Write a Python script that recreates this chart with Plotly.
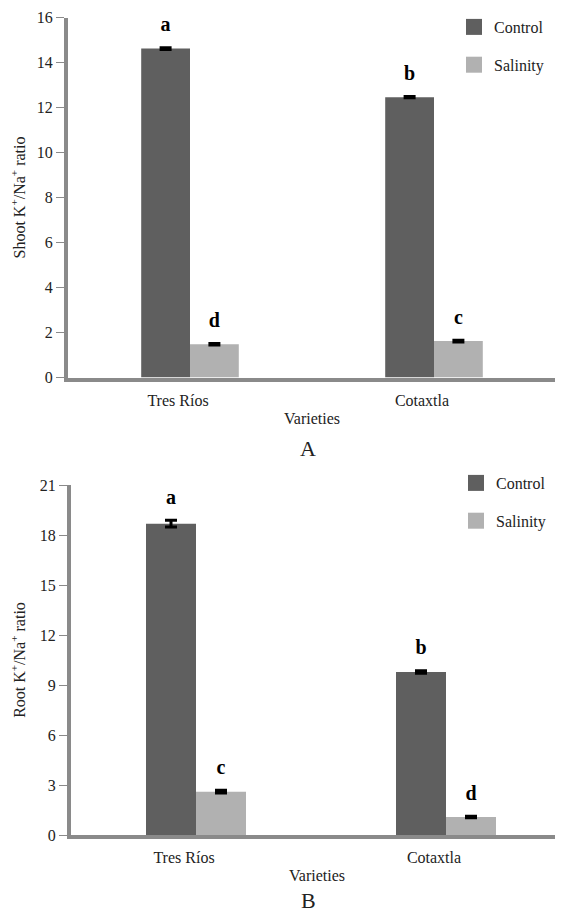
import plotly.graph_objects as go

varieties = ["Tres Ríos", "Cotaxtla"]

shoot_control = [14.62, 12.46]
shoot_control_err = [0.04, 0.03]
shoot_salinity = [1.48, 1.62]
shoot_salinity_err = [0.03, 0.04]
shoot_control_letters = ["a", "b"]
shoot_salinity_letters = ["d", "c"]

root_control = [18.68, 9.78]
root_control_err = [0.2, 0.08]
root_salinity = [2.6, 1.08]
root_salinity_err = [0.08, 0.05]
root_control_letters = ["a", "b"]
root_salinity_letters = ["c", "d"]

shoot_ticks = [0, 2, 4, 6, 8, 10, 12, 14, 16]
root_ticks = [0, 3, 6, 9, 12, 15, 18, 21]

C_CONTROL = "#5f5f5f"
C_SAL = "#b1b1b1"
AX = "#8a8a8a"
FONT = "Liberation Serif, Times New Roman, serif"
TXT = "#222"

fig = go.Figure()

def add_panel(ctrl, ctrl_err, sal, sal_err, lc, ls, xa, ya, legend):
    for vals, errs, letters, col, name, grp in ((ctrl, ctrl_err, lc, C_CONTROL, "Control", "c"),
                                                 (sal, sal_err, ls, C_SAL, "Salinity", "s")):
        fig.add_trace(go.Bar(x=varieties, y=vals, name=name, marker_color=col,
                             error_y=dict(type="data", array=errs, color="black", thickness=3, width=6),
                             xaxis=xa, yaxis=ya, showlegend=False, offsetgroup=grp))
        fig.add_trace(go.Scatter(x=varieties, y=[v + e for v, e in zip(vals, errs)], text=letters,
                                 mode="markers+text", textposition="top center",
                                 marker=dict(size=17, color="rgba(0,0,0,0)"),
                                 textfont=dict(family=FONT, size=20, color="black", weight="bold"),
                                 xaxis=xa, yaxis=ya, showlegend=False, offsetgroup=grp,
                                 hoverinfo="skip"))
    for name, col in (("Control", C_CONTROL), ("Salinity", C_SAL)):
        fig.add_trace(go.Scatter(x=[None], y=[None], mode="markers", name=name,
                                 marker=dict(symbol="square", size=18, color=col),
                                 xaxis=xa, yaxis=ya, legend=legend, legendgroup=name + legend))

add_panel(shoot_control, shoot_control_err, shoot_salinity, shoot_salinity_err,
          shoot_control_letters, shoot_salinity_letters, "x", "y", "legend")
add_panel(root_control, root_control_err, root_salinity, root_salinity_err,
          root_control_letters, root_salinity_letters, "x2", "y2", "legend2")

# page body has an 8px margin: layout is expressed in window pixels minus that offset
OFF = 8.0
W = 563.0 - OFF
H = 914.0 - OFF

def px(x):
    return (x - OFF) / W

def py(y):
    return 1 - (y - OFF) / H

xcommon = dict(type="category", showline=True, linecolor=AX, linewidth=4, ticks="",
               tickfont=dict(family=FONT, size=16, color=TXT), ticklabelstandoff=5,
               ticklabelshift=-12,
               showgrid=False, zeroline=False, automargin=False,
               title=dict(text="Varieties", font=dict(family=FONT, size=16, color=TXT), standoff=6))
ycommon = dict(showline=True, linecolor=AX, linewidth=4, ticks="outside", ticklen=8, tickwidth=1,
               tickcolor=AX, tickfont=dict(family=FONT, size=16, color=TXT),
               showgrid=False, zeroline=False, automargin=False)

fig.update_layout(
    template="none",
    width=int(W), height=int(H), margin=dict(l=0, r=0, t=0, b=0, autoexpand=False),
    paper_bgcolor="white", plot_bgcolor="white",
    barmode="group", bargap=0.6, scattermode="group", scattergap=0.6,
    font=dict(family=FONT, size=16, color=TXT),
    xaxis=dict(xcommon, domain=[px(68), px(556)], range=[-0.5, 1.5], anchor="y"),
    yaxis=dict(ycommon, domain=[py(377.5), py(17.5)], range=[0, 16], tickvals=shoot_ticks,
               title=dict(text="Shoot K<sup>+</sup>/Na<sup>+</sup> ratio",
                          font=dict(family=FONT, size=16, color=TXT), standoff=12), anchor="x"),
    xaxis2=dict(xcommon, domain=[px(71), 1.0], range=[-0.5, 1.468], anchor="y2"),
    yaxis2=dict(ycommon, domain=[py(835), py(485)], range=[0, 21], tickvals=root_ticks,
                title=dict(text="Root K<sup>+</sup>/Na<sup>+</sup> ratio",
                           font=dict(family=FONT, size=16, color=TXT), standoff=12), anchor="x2"),
    legend=dict(x=px(454), y=py(10), xanchor="left", yanchor="top", bgcolor="rgba(0,0,0,0)",
                font=dict(family=FONT, size=16, color=TXT), tracegroupgap=14),
    legend2=dict(x=px(456), y=py(466), xanchor="left", yanchor="top", bgcolor="rgba(0,0,0,0)",
                 font=dict(family=FONT, size=16, color=TXT), tracegroupgap=14),
    annotations=[
        dict(text="A", x=px(308), y=py(448), xref="paper", yref="paper", showarrow=False,
             xanchor="center", yanchor="middle", font=dict(family=FONT, size=22, color=TXT)),
        dict(text="B", x=px(308), y=0, xref="paper", yref="paper", showarrow=False,
             xanchor="center", yanchor="bottom", borderpad=0,
             font=dict(family=FONT, size=22, color=TXT)),
    ],
)

fig.write_html("out.html")
